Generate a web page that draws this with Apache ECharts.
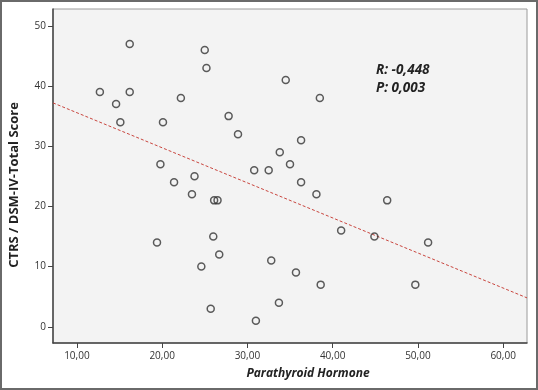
<!DOCTYPE html>
<html>
<head>
<meta charset="utf-8">
<script src="https://cdn.jsdelivr.net/npm/echarts@6/dist/echarts.min.js"></script>
<style>
  html, body { margin: 0; padding: 0; background: #fff; }
  #chart { width: 538px; height: 390px; }
</style>
</head>
<body>
<div id="chart"></div>
<script>
// parathyroid hormone vs CTRS score
var pthValues = [12.7, 14.6, 15.1, 16.2, 16.2, 20.1, 22.2, 25.0, 25.2, 27.8, 28.9,
                 19.8, 21.4, 23.8, 23.5, 30.8, 32.5, 26.1, 26.5, 19.4, 26.0, 26.7,
                 24.6, 25.7, 31.0, 32.8, 34.5, 38.5, 36.3, 33.8, 35.0, 36.3, 38.1,
                 46.4, 41.0, 44.9, 51.2, 35.7, 38.6, 49.7, 33.7];
var ctrsValues = [39, 37, 34, 47, 39, 34, 38, 46, 43, 35, 32,
                  27, 24, 25, 22, 26, 26, 21, 21, 14, 15, 12,
                  10, 3, 1, 11, 41, 38, 31, 29, 27, 24, 22,
                  21, 16, 15, 14, 9, 7, 7, 4];
// fit line endpoints (at the plot edges)
var fitX = [7.2, 62.8];
var fitY = [37.2, 4.8];
var xTicks = [10, 20, 30, 40, 50, 60];
var yTicks = [0, 10, 20, 30, 40, 50];
var statLines = ['R: -0,448', 'P: 0,003'];

var points = pthValues.map(function (v, i) { return [v, ctrsValues[i]]; });
var fitLine = fitX.map(function (v, i) { return [v, fitY[i]]; });

var font = '"Open Sans", "DejaVu Sans", sans-serif';

var option = {
    animation: false,
    backgroundColor: '#ffffff',
    grid: {
        left: 53,
        right: 11,
        top: 9,
        bottom: 47,
        show: true,
        backgroundColor: '#f3f3f3',
        borderColor: '#9a9a9a',
        borderWidth: 1
    },
    xAxis: {
        type: 'value',
        min: 7.2,
        max: 62.8,
        interval: 10,
        splitLine: { show: false },
        axisLine: { show: true, onZero: false, lineStyle: { color: '#444', width: 1.5 } },
        axisTick: { show: true, length: 5, lineStyle: { color: '#444' },
            customValues: xTicks },
        axisLabel: {
            color: '#333', fontFamily: font, fontSize: 10, margin: 8,
            customValues: xTicks,
            formatter: function (v) { return v.toFixed(2).replace('.', ','); }
        },
        name: 'Parathyroid Hormone',
        nameLocation: 'middle',
        nameGap: 25,
        nameTextStyle: {
            fontFamily: font, fontSize: 12, fontWeight: 'bold', fontStyle: 'italic',
            color: '#222', padding: [0, 0, 0, 36]
        }
    },
    yAxis: {
        type: 'value',
        min: -2.7,
        max: 52.8,
        splitLine: { show: false },
        axisLine: { show: true, onZero: false, lineStyle: { color: '#444', width: 1.5 } },
        axisTick: { show: true, length: 5, lineStyle: { color: '#444' },
            customValues: yTicks },
        axisLabel: {
            color: '#333', fontFamily: font, fontSize: 10, margin: 7,
            customValues: yTicks
        },
        name: 'CTRS / DSM-IV-Total Score',
        nameLocation: 'middle',
        nameGap: 32,
        nameTextStyle: {
            fontFamily: font, fontSize: 13, fontWeight: 'bold',
            color: '#222', padding: [0, 18, 0, 0]
        }
    },
    graphic: [
        {
            type: 'rect',
            silent: true,
            shape: { x: 1, y: 1, width: 536, height: 388 },
            style: { fill: 'none', stroke: '#6a6a6a', lineWidth: 2 }
        },
        {
            type: 'text',
            left: 376,
            top: 61,
            style: {
                text: statLines.join('\n'),
                font: 'italic bold 13.5px ' + font,
                lineHeight: 18,
                fill: '#222'
            }
        }
    ],
    series: [
        {
            type: 'line',
            data: fitLine,
            symbol: 'none',
            lineStyle: { color: '#c9463f', width: 1, type: [3, 2] },
            z: 1
        },
        {
            type: 'scatter',
            data: points,
            symbol: 'circle',
            symbolSize: 7,
            itemStyle: { color: 'rgba(0,0,0,0)', borderColor: '#333', borderWidth: 1.5 },
            z: 2
        }
    ]
};

var myChart = echarts.init(document.getElementById('chart'));
myChart.setOption(option);
</script>
</body>
</html>
